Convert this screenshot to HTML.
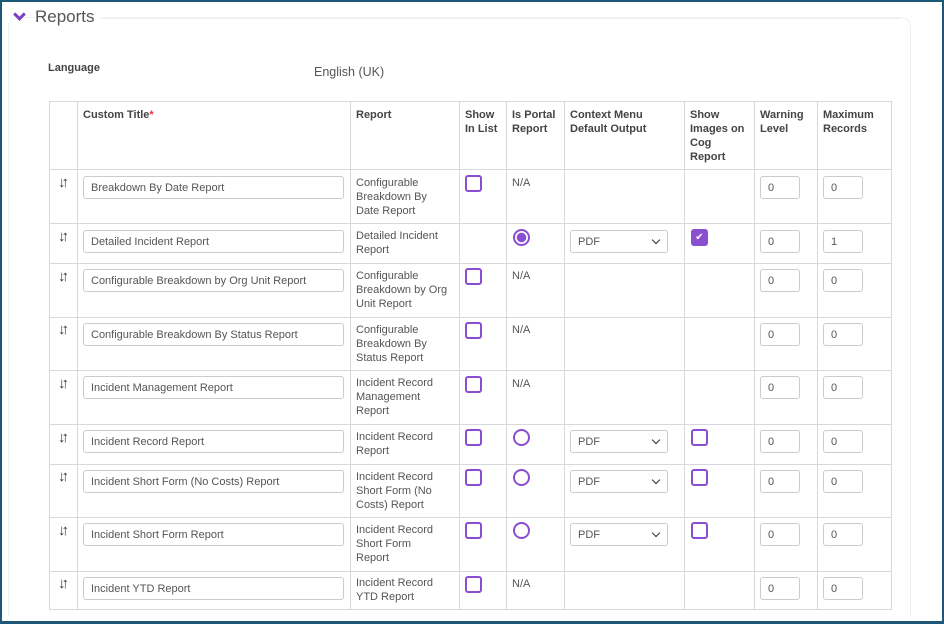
<!DOCTYPE html>
<html><head><style>
*{box-sizing:border-box;margin:0;padding:0}
html,body{width:944px;height:624px;overflow:hidden}
body{background:#fff;font-family:"Liberation Sans",sans-serif;color:#444;position:relative}
.frame{position:absolute;left:0;top:0;width:944px;height:624px;border:2px solid #1d5877;border-bottom-width:3px}
.abs{position:absolute}
.card{position:absolute;left:8px;top:17px;width:903px;height:600px;border:1px solid #eef0f3;border-bottom:none;border-radius:10px 10px 0 0}
.v{position:absolute;width:1px;background:#d6d8db;top:101px;height:509px}
.h{position:absolute;height:1px;background:#d6d8db;left:49px;width:843px}
.th{position:absolute;font-size:11px;font-weight:bold;color:#444;line-height:14px;top:108px}
.rt{position:absolute;font-size:11px;line-height:14px;color:#555}
.in{position:absolute;height:23px;border:1px solid #ccc;border-radius:3px;font-size:11px;color:#555;padding:5px 7px;line-height:12px;background:#fff}
.cb{position:absolute;width:17px;height:17px;border:2px solid #8a4fd0;border-radius:3px}
.rd{position:absolute;width:17px;height:17px;border:2px solid #8a4fd0;border-radius:50%}
.sel{position:absolute;left:570px;width:98px;height:23px;border:1px solid #ccc;border-radius:3px;font-size:11px;color:#555;padding:5px 7px;line-height:12px}
.sel:after{content:"";position:absolute;right:8px;top:6px;width:5px;height:5px;border-right:1.5px solid #333;border-bottom:1.5px solid #333;transform:rotate(45deg)}
.ar{position:absolute;left:58px;font-size:15px;color:#333;letter-spacing:-4px;line-height:15px}
</style></head><body>
<div class="card"></div>
<div class="abs" style="left:15px;top:10px;width:9px;height:9px;border-right:3px solid #7b3fc4;border-bottom:3px solid #7b3fc4;transform:rotate(45deg)"></div>
<div class="abs" style="left:35px;top:7px;font-size:17px;color:#555;background:#fff;padding-right:8px">Reports</div>
<div class="abs" style="left:100px;top:18px;width:800px;height:1px;background:#eef0f3"></div>
<div class="abs" style="left:48px;top:62px;font-size:11px;font-weight:bold;color:#444">Language</div>
<div class="abs" style="left:314px;top:65px;font-size:12.5px;color:#555">English (UK)</div>

<div class="v" style="left:49px"></div><div class="v" style="left:77px"></div><div class="v" style="left:350px"></div><div class="v" style="left:459px"></div><div class="v" style="left:506px"></div><div class="v" style="left:564px"></div><div class="v" style="left:684px"></div><div class="v" style="left:754px"></div><div class="v" style="left:817px"></div><div class="v" style="left:891px"></div>
<div class="h" style="top:101px"></div><div class="h" style="top:169px"></div><div class="h" style="top:223px"></div><div class="h" style="top:263px"></div><div class="h" style="top:317px"></div><div class="h" style="top:370px"></div><div class="h" style="top:424px"></div><div class="h" style="top:464px"></div><div class="h" style="top:517px"></div><div class="h" style="top:571px"></div><div class="h" style="top:609px"></div>

<div class="th" style="left:83px">Custom Title<span style="color:#e33">*</span></div>
<div class="th" style="left:356px">Report</div>
<div class="th" style="left:465px">Show<br>In List</div>
<div class="th" style="left:512px">Is Portal<br>Report</div>
<div class="th" style="left:570px">Context Menu<br>Default Output</div>
<div class="th" style="left:690px">Show<br>Images on<br>Cog<br>Report</div>
<div class="th" style="left:760px">Warning<br>Level</div>
<div class="th" style="left:823px">Maximum<br>Records</div>

<div class="ar" style="top:175px">↓↑</div>
<div class="in" style="left:83px;top:176px;width:261px">Breakdown By Date Report</div>
<div class="rt" style="left:356px;top:176px">Configurable<br>Breakdown By<br>Date Report</div>
<div class="cb" style="left:465px;top:175px"></div>
<div class="rt" style="left:512px;top:176px">N/A</div>
<div class="in" style="left:760px;top:176px;width:40px">0</div><div class="in" style="left:823px;top:176px;width:40px">0</div>

<div class="ar" style="top:229px">↓↑</div>
<div class="in" style="left:83px;top:230px;width:261px">Detailed Incident Report</div>
<div class="rt" style="left:356px;top:229px">Detailed Incident<br>Report</div>
<div class="rd" style="left:513px;top:229px;background:radial-gradient(circle,#8a4fd0 0 4.5px,#fff 5px)"></div>
<div class="sel" style="top:230px">PDF</div>
<div class="cb" style="left:691px;top:229px;background:#8a4fd0;color:#fff;font-size:10px;text-align:center;line-height:13px">✔</div>
<div class="in" style="left:760px;top:230px;width:40px">0</div><div class="in" style="left:823px;top:230px;width:40px">1</div>

<div class="ar" style="top:269px">↓↑</div>
<div class="in" style="left:83px;top:269px;width:261px">Configurable Breakdown by Org Unit Report</div>
<div class="rt" style="left:356px;top:269px">Configurable<br>Breakdown by Org<br>Unit Report</div>
<div class="cb" style="left:465px;top:268px"></div>
<div class="rt" style="left:512px;top:269px">N/A</div>
<div class="in" style="left:760px;top:269px;width:40px">0</div><div class="in" style="left:823px;top:269px;width:40px">0</div>

<div class="ar" style="top:322px">↓↑</div>
<div class="in" style="left:83px;top:323px;width:261px">Configurable Breakdown By Status Report</div>
<div class="rt" style="left:356px;top:323px">Configurable<br>Breakdown By<br>Status Report</div>
<div class="cb" style="left:465px;top:322px"></div>
<div class="rt" style="left:512px;top:323px">N/A</div>
<div class="in" style="left:760px;top:323px;width:40px">0</div><div class="in" style="left:823px;top:323px;width:40px">0</div>

<div class="ar" style="top:376px">↓↑</div>
<div class="in" style="left:83px;top:376px;width:261px">Incident Management Report</div>
<div class="rt" style="left:356px;top:376px">Incident Record<br>Management<br>Report</div>
<div class="cb" style="left:465px;top:376px"></div>
<div class="rt" style="left:512px;top:377px">N/A</div>
<div class="in" style="left:760px;top:376px;width:40px">0</div><div class="in" style="left:823px;top:376px;width:40px">0</div>

<div class="ar" style="top:430px">↓↑</div>
<div class="in" style="left:83px;top:430px;width:261px">Incident Record Report</div>
<div class="rt" style="left:356px;top:430px">Incident Record<br>Report</div>
<div class="cb" style="left:465px;top:429px"></div>
<div class="rd" style="left:513px;top:429px"></div>
<div class="sel" style="top:430px">PDF</div>
<div class="cb" style="left:691px;top:429px"></div>
<div class="in" style="left:760px;top:430px;width:40px">0</div><div class="in" style="left:823px;top:430px;width:40px">0</div>

<div class="ar" style="top:469px">↓↑</div>
<div class="in" style="left:83px;top:470px;width:261px">Incident Short Form (No Costs) Report</div>
<div class="rt" style="left:356px;top:470px">Incident Record<br>Short Form (No<br>Costs) Report</div>
<div class="cb" style="left:465px;top:469px"></div>
<div class="rd" style="left:513px;top:469px"></div>
<div class="sel" style="top:470px">PDF</div>
<div class="cb" style="left:691px;top:469px"></div>
<div class="in" style="left:760px;top:470px;width:40px">0</div><div class="in" style="left:823px;top:470px;width:40px">0</div>

<div class="ar" style="top:523px">↓↑</div>
<div class="in" style="left:83px;top:523px;width:261px">Incident Short Form Report</div>
<div class="rt" style="left:356px;top:523px">Incident Record<br>Short Form<br>Report</div>
<div class="cb" style="left:465px;top:522px"></div>
<div class="rd" style="left:513px;top:522px"></div>
<div class="sel" style="top:523px">PDF</div>
<div class="cb" style="left:691px;top:522px"></div>
<div class="in" style="left:760px;top:523px;width:40px">0</div><div class="in" style="left:823px;top:523px;width:40px">0</div>

<div class="ar" style="top:576px">↓↑</div>
<div class="in" style="left:83px;top:577px;width:261px">Incident YTD Report</div>
<div class="rt" style="left:356px;top:576px">Incident Record<br>YTD Report</div>
<div class="cb" style="left:465px;top:576px"></div>
<div class="rt" style="left:512px;top:577px">N/A</div>
<div class="in" style="left:760px;top:577px;width:40px">0</div><div class="in" style="left:823px;top:577px;width:40px">0</div>

<div class="frame"></div>
</body></html>
